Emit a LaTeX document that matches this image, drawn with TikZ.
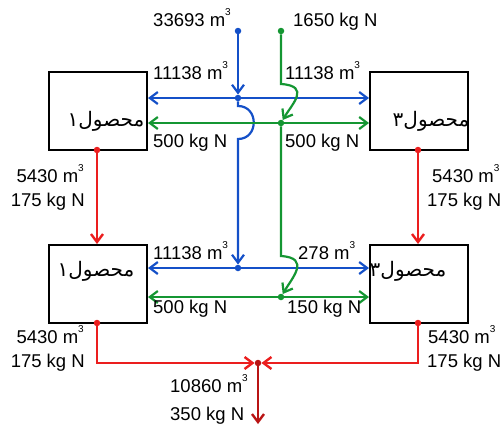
\documentclass[tikz,border=0pt]{standalone}
\usepackage{fontspec}
\setmainfont{Liberation Sans}
\newfontfamily\arabicfont[Script=Arabic]{DejaVu Sans}
\TeXXeTstate=1
\usetikzlibrary{arrows.meta}
\definecolor{fblue}{RGB}{20,80,200}
\definecolor{fgreen}{RGB}{20,150,50}
\definecolor{fred}{RGB}{235,30,30}
\definecolor{dred}{RGB}{185,20,20}
\newcommand\cubem{m\raisebox{1.05ex}{\fontsize{10}{10}\selectfont 3}}
\tikzset{
 box/.style={draw=black, line width=2pt, minimum width=98pt, minimum height=78pt, inner sep=0pt},
 lbl/.style={inner sep=0pt, font=\fontsize{18.5}{20}\selectfont},
 ar/.style={inner sep=0pt, font=\arabicfont\fontsize{20}{22}\selectfont},
 tip/.style={-{Straight Barb[length=8pt,width=12pt]}},
 bflow/.style={draw=fblue, line width=2.2pt},
 gflow/.style={draw=fgreen, line width=2.2pt},
 rflow/.style={draw=fred, line width=2.4pt},
 dflow/.style={draw=dred, line width=2.4pt},
 jdot/.style={circle, minimum size=6.5pt, inner sep=0pt},
 bdot/.style={jdot, fill=fblue},
 gdot/.style={jdot, fill=fgreen},
 rdot/.style={jdot, fill=fred},
}
\begin{document}
\begin{tikzpicture}[x=1pt,y=-1pt]
\useasboundingbox (0,0) rectangle (502,426);
% boxes
\node[box] (TL) at (98,110.5) {};
\node[box] (TR) at (419,110.5) {};
\node[box] (BL) at (98,284) {};
\node[box] (BR) at (419,284) {};
\node[ar] (tTL) at (106,121) {\beginR محصول۱\endR};
\node[ar] (tTR) at (431,121) {\beginR محصول۳\endR};
\node[ar] (tBL) at (96,271) {\beginR محصول۱\endR};
\node[ar] (tBR) at (408,271) {\beginR محصول۳\endR};
% blue
\node[bdot] (bS) at (238,31) {};
\node[bdot] (bJ1) at (238,98) {};
\node[bdot] (bJ2) at (238,268) {};
\draw[bflow,tip] (bS) -- (bJ1);
\draw[bflow,tip] (bJ1) -- (238,106) .. controls (259,106) and (259,139) .. (238,139) -- (bJ2);
\draw[bflow,tip] (bJ1) -- (bJ1 -| TL.east);
\draw[bflow,tip] (bJ1) -- (bJ1 -| TR.west);
\draw[bflow,tip] (bJ2) -- (bJ2 -| BL.east);
\draw[bflow,tip] (bJ2) -- (bJ2 -| BR.west);
% green
\node[gdot] (gS) at (281,31) {};
\node[gdot] (gJ1) at (281,123) {};
\node[gdot] (gJ2) at (281,297) {};
\draw[gflow,tip] (gS) -- (281,84) .. controls (311,86) and (292,104) .. (gJ1);
\draw[gflow,tip] (gJ1) -- (281,256) .. controls (311,258) and (292,278) .. (gJ2);
\draw[gflow,tip] (gJ1) -- (gJ1 -| TL.east);
\draw[gflow,tip] (gJ1) -- (gJ1 -| TR.west);
\draw[gflow,tip] (gJ2) -- (gJ2 -| BL.east);
\draw[gflow,tip] (gJ2) -- (gJ2 -| BR.west);
% red
\node[rdot] (r1) at (97,150) {};
\node[rdot] (r2) at (418,150) {};
\node[rdot] (r3) at (97,323) {};
\node[rdot] (r4) at (418,323) {};
\node[rdot, fill=dred] (rJ) at (258,363) {};
\coordinate (rEnd) at (258,424);
\draw[rflow,tip] (r1) -- (r1 |- BL.north);
\draw[rflow,tip] (r2) -- (r2 |- BR.north);
\draw[rflow,tip] (r3) |- (rJ);
\draw[rflow,tip] (r4) |- (rJ);
\draw[dflow,tip] (rJ) -- (rEnd);
% labels
\node[lbl, anchor=base east] (l1) at (231,26) {33693 \cubem};
\node[lbl, anchor=base west] (l2) at (293,26) {1650 kg N};
\node[lbl, anchor=base west] (l3) at (153,79) {11138 \cubem};
\node[lbl, anchor=base west] (l4) at (285,79) {11138 \cubem};
\node[lbl, anchor=base west] (l5) at (153,147) {500 kg N};
\node[lbl, anchor=base west] (l6) at (285,147) {500 kg N};
\node[lbl, anchor=base east] (l7) at (84,182) {5430 \cubem};
\node[lbl, anchor=base east] (l8) at (85,206) {175 kg N};
\node[lbl, anchor=base west] (l9) at (432,182) {5430 \cubem};
\node[lbl, anchor=base west] (l10) at (427,206) {175 kg N};
\node[lbl, anchor=base west] (l11) at (153,259) {11138 \cubem};
\node[lbl, anchor=base west] (l12) at (298,259) {278 \cubem};
\node[lbl, anchor=base west] (l13) at (153,313) {500 kg N};
\node[lbl, anchor=base west] (l14) at (287,313) {150 kg N};
\node[lbl, anchor=base east] (l15) at (84,343) {5430 \cubem};
\node[lbl, anchor=base east] (l16) at (85,367) {175 kg N};
\node[lbl, anchor=base west] (l17) at (428,343) {5430 \cubem};
\node[lbl, anchor=base west] (l18) at (427,367) {175 kg N};
\node[lbl, anchor=base west] (l19) at (170,392) {10860 \cubem};
\node[lbl, anchor=base west] (l20) at (170,420) {350 kg N};
\end{tikzpicture}
\end{document}
